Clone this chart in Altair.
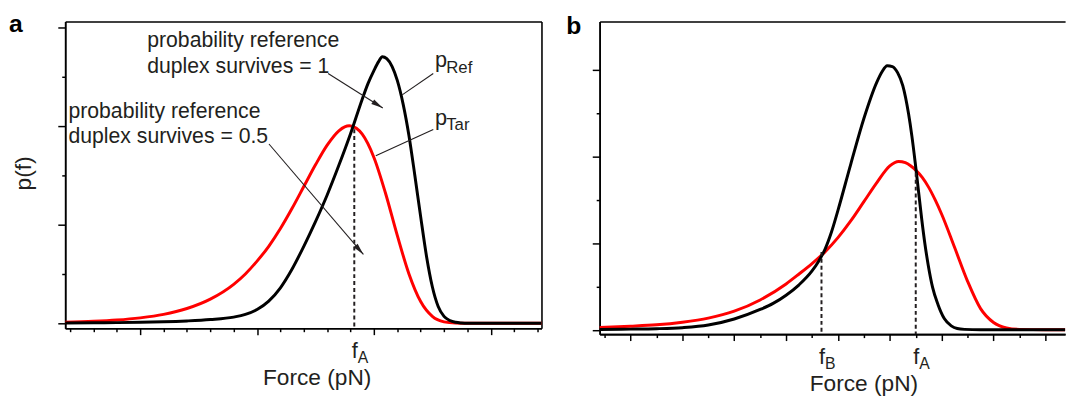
import altair as alt
import pandas as pd

FONT = "Liberation Sans"
INK = "#231f20"

# ---------------- panel a (force in minor-tick units, p(f) in major-tick units) ----------------
a_ref_force = [1.79, 3, 4, 5, 6, 7, 8, 9, 9.5, 10, 10.5, 11, 11.5, 12, 12.5, 13, 13.5, 14, 14.5, 14.75,
               15, 15.2, 15.36, 15.55, 15.78, 16, 16.25, 16.5, 16.75, 17, 17.25, 17.5, 17.75, 18, 18.25,
               18.5, 18.75, 19, 22.17]
a_ref_p = [0.003, 0.005, 0.007, 0.010, 0.015, 0.024, 0.038, 0.063, 0.09, 0.14, 0.225, 0.36, 0.55, 0.78,
           1.03, 1.30, 1.60, 1.92, 2.27, 2.43, 2.56, 2.65, 2.70, 2.68, 2.60, 2.46, 2.22, 1.90, 1.50, 1.08,
           0.68, 0.37, 0.17, 0.07, 0.028, 0.01, 0.003, 0.0, 0.0]
a_tar_force = [1.79, 3, 4, 5, 6, 7, 8, 9, 9.5, 10, 10.5, 11, 11.5, 12, 12.5, 13, 13.5, 13.75, 13.95, 14.25,
               14.5, 15, 15.5, 16, 16.5, 17, 17.5, 18, 18.5, 19, 22.17]
a_tar_p = [0.011, 0.02, 0.033, 0.055, 0.09, 0.15, 0.245, 0.395, 0.50, 0.63, 0.78, 0.96, 1.165, 1.385,
           1.605, 1.805, 1.95, 1.99, 2.00, 1.975, 1.915, 1.68, 1.315, 0.89, 0.50, 0.22, 0.07, 0.015,
           0.002, 0.0, 0.0]
a_x_domain = [1.79, 22.17]
a_y_domain = [-0.05, 3.056]
a_x_major = [5, 10, 15, 20]
a_x_minor = [2, 3, 4, 6, 7, 8, 9, 11, 12, 13, 14, 16, 17, 18, 19, 21, 22]
a_y_major = [0, 1, 2, 3]
a_y_minor = [0.5, 1.5, 2.5]
a_marks_x = [14.16]
a_marks_top = [1.966]
a_marks_sub = ["A"]
a_note_text = ["probability reference", "duplex survives = 1",
               "probability reference", "duplex survives = 0.5"]
a_note_x = [5.30, 5.30, 1.93, 1.93]
a_note_y = [2.80, 2.54, 2.08, 1.83]
a_label_sub = ["Ref", "Tar"]
a_label_x = [17.61, 17.61]
a_label_y = [2.596, 2.013]
a_seg_x = [13.04, 10.51, 17.54, 17.54]
a_seg_y = [2.53, 1.816, 2.53, 1.963]
a_seg_x2 = [15.38, 14.55, 16.21, 15.08]
a_seg_y2 = [2.18, 0.698, 2.313, 1.696]
a_head_x = [15.38, 14.55]
a_head_y = [2.18, 0.698]
a_head_angle = [122, 139]

# ---------------- panel b ----------------
b_ref_force = [0.81, 2, 3, 4, 5, 6, 7, 7.5, 8, 8.5, 9, 9.25, 9.5, 9.75, 10, 10.5, 11, 11.5, 11.7, 11.9,
               12.1, 12.3, 12.5, 12.72, 12.85, 12.98, 13.1, 13.23, 13.35, 13.48, 13.65, 13.86, 14.1,
               14.37, 14.6, 14.88, 15.5, 18.76]
b_ref_p = [0.004, 0.008, 0.013, 0.025, 0.055, 0.125, 0.235, 0.305, 0.40, 0.52, 0.68, 0.79, 0.93, 1.13,
           1.38, 1.92, 2.44, 2.86, 2.98, 3.05, 3.04, 2.97, 2.82, 2.50, 2.24, 1.93, 1.62, 1.28, 1.00,
           0.75, 0.49, 0.29, 0.13, 0.046, 0.015, 0.005, 0.0, 0.0]
b_tar_force = [0.81, 2, 3, 4, 5, 6, 7, 8, 8.5, 9, 9.5, 10, 10.5, 11, 11.5, 12, 12.34, 12.6, 12.8, 13,
               13.25, 13.5, 13.75, 14, 14.5, 15, 15.5, 16, 16.5, 17, 18, 18.76]
b_tar_p = [0.028, 0.042, 0.058, 0.088, 0.135, 0.215, 0.345, 0.53, 0.645, 0.765, 0.90, 1.065, 1.26, 1.48,
           1.70, 1.893, 1.945, 1.93, 1.895, 1.845, 1.76, 1.645, 1.50, 1.335, 0.95, 0.56, 0.245, 0.085,
           0.022, 0.005, 0.0, 0.0]
b_x_domain = [0.81, 18.76]
b_y_domain = [-0.05, 3.56]
b_x_major = [2, 4, 6, 8, 10, 12, 14, 16, 18]
b_x_minor = [1, 3, 5, 7, 9, 11, 13, 15, 17]
b_y_major = [0, 1, 2, 3]
b_y_minor = [0.5, 1.5, 2.5]
b_marks_x = [9.365, 13.0]
b_marks_top = [0.90, 1.813]
b_marks_sub = ["B", "A"]

ARROW = "M0,0L0.5,2.2L-0.5,2.2Z"


def panel(ref_f, ref_p, tar_f, tar_p, xdom, ydom, xmaj, xmin, ymaj, ymin,
          w, h, ytitle, xtitle_x, mx, mtop, msub, letter, ldx, ldy, right_frame, extras):
    xs = alt.Scale(domain=xdom, nice=False, zero=False)
    ys = alt.Scale(domain=ydom, nice=False, zero=False)

    if ytitle:
        y_major_axis = alt.Axis(orient="left", values=ymaj, tickSize=7.5, labels=False,
                                title=ytitle, titleX=-35.5, titleY=h / 2 - 2, titleAngle=270,
                                titleAlign="center", titleBaseline="alphabetic", titleFontSize=23)
    else:
        y_major_axis = alt.Axis(orient="left", values=ymaj, tickSize=7.5, labels=False, title=None)

    ref = alt.Chart(pd.DataFrame({"force": ref_f, "p": ref_p})).mark_line(
        color="black", strokeWidth=3, interpolate="monotone").encode(
        x=alt.X("force:Q", scale=xs,
                axis=alt.Axis(orient="bottom", values=xmaj, tickSize=6.5, labels=False,
                              title="Force (pN)", titleX=xtitle_x, titleY=57.5, titleAngle=0,
                              titleAlign="center", titleBaseline="alphabetic")),
        y=alt.Y("p:Q", scale=ys, axis=y_major_axis),
    )
    tar = alt.Chart(pd.DataFrame({"force": tar_f, "p": tar_p})).mark_line(
        color="#ff0000", strokeWidth=3, interpolate="monotone").encode(
        x=alt.X("force:Q", scale=xs,
                axis=alt.Axis(orient="bottom", values=xmin, tickSize=3.5, labels=False, title=None)),
        y=alt.Y("p:Q", scale=ys,
                axis=alt.Axis(orient="left", values=ymin, tickSize=3.5, labels=False, title=None)),
    )
    if right_frame:
        yaxis_frame = alt.Axis(orient="right", ticks=False, labels=False, domain=True, title=None)
    else:
        yaxis_frame = None
    mdf = pd.DataFrame({"x": mx, "top": mtop, "bottom": [ydom[0]] * len(mx), "sub": msub,
                        "f": ["f"] * len(mx)})
    dashed = alt.Chart(mdf).mark_rule(color=INK, strokeWidth=2, strokeDash=[4, 3]).encode(
        x=alt.X("x:Q", scale=xs,
                axis=alt.Axis(orient="top", ticks=False, labels=False, domain=True, title=None)),
        y=alt.Y("top:Q", scale=ys, axis=yaxis_frame),
        y2="bottom:Q",
    )
    f_txt = alt.Chart(mdf).mark_text(font=FONT, fontSize=22, color=INK, align="right",
                                     baseline="alphabetic", dx=3.5, dy=30).encode(
        x=alt.X("x:Q", scale=xs, axis=None), y=alt.Y("bottom:Q", scale=ys, axis=None), text="f:N")
    sub_txt = alt.Chart(mdf).mark_text(font=FONT, fontSize=16, color=INK, align="left",
                                       baseline="alphabetic", dx=3.5, dy=35).encode(
        x=alt.X("x:Q", scale=xs, axis=None), y=alt.Y("bottom:Q", scale=ys, axis=None), text="sub:N")
    ldf = pd.DataFrame({"x": [xdom[0]], "y": [ydom[1]], "t": [letter]})
    letter_txt = alt.Chart(ldf).mark_text(font=FONT, fontSize=25, fontWeight="bold", color="black",
                                          align="left", baseline="alphabetic", dx=ldx, dy=ldy).encode(
        x=alt.X("x:Q", scale=xs, axis=None), y=alt.Y("y:Q", scale=ys, axis=None), text="t:N")

    layers = [tar, ref, dashed, f_txt, sub_txt, letter_txt] + [e(xs, ys) for e in extras]
    return alt.layer(*layers).resolve_axis(x="independent", y="independent").properties(
        width=w, height=h)


def a_notes(xs, ys):
    return alt.Chart(pd.DataFrame({"x": a_note_x, "y": a_note_y, "t": a_note_text})).mark_text(
        font=FONT, fontSize=21.5, color=INK, align="left", baseline="alphabetic").encode(
        x=alt.X("x:Q", scale=xs, axis=None), y=alt.Y("y:Q", scale=ys, axis=None), text="t:N")


def a_p(xs, ys):
    return alt.Chart(pd.DataFrame({"x": a_label_x, "y": a_label_y, "t": ["p", "p"]})).mark_text(
        font=FONT, fontSize=22, color=INK, align="left", baseline="alphabetic").encode(
        x=alt.X("x:Q", scale=xs, axis=None), y=alt.Y("y:Q", scale=ys, axis=None), text="t:N")


def a_sub(xs, ys):
    return alt.Chart(pd.DataFrame({"x": a_label_x, "y": a_label_y, "t": a_label_sub})).mark_text(
        font=FONT, fontSize=17, color=INK, align="left", baseline="alphabetic", dx=11.5, dy=6).encode(
        x=alt.X("x:Q", scale=xs, axis=None), y=alt.Y("y:Q", scale=ys, axis=None), text="t:N")


def a_segs(xs, ys):
    return alt.Chart(pd.DataFrame({"x": a_seg_x, "y": a_seg_y, "x2": a_seg_x2, "y2": a_seg_y2})).mark_rule(
        color=INK, strokeWidth=1.1).encode(
        x=alt.X("x:Q", scale=xs, axis=None), y=alt.Y("y:Q", scale=ys, axis=None), x2="x2:Q", y2="y2:Q")


def a_heads(xs, ys):
    return alt.Chart(pd.DataFrame({"x": a_head_x, "y": a_head_y, "a": a_head_angle})).mark_point(
        shape=ARROW, filled=True, size=119, color=INK, opacity=1, strokeWidth=0).encode(
        x=alt.X("x:Q", scale=xs, axis=None), y=alt.Y("y:Q", scale=ys, axis=None),
        angle=alt.Angle("a:Q", scale=None))


panel_a = panel(a_ref_force, a_ref_p, a_tar_force, a_tar_p, a_x_domain, a_y_domain,
                a_x_major, a_x_minor, a_y_major, a_y_minor, 483, 311, "p(f)", 255,
                a_marks_x, a_marks_top, a_marks_sub, "a", -57, 10.3, True,
                [a_segs, a_heads, a_notes, a_p, a_sub])
panel_b = panel(b_ref_force, b_ref_p, b_tar_force, b_tar_p, b_x_domain, b_y_domain,
                b_x_major, b_x_minor, b_y_major, b_y_minor, 472, 317, None, 267.5,
                b_marks_x, b_marks_top, b_marks_sub, "b", -34, 13, False, [])

chart = alt.hconcat(panel_a, panel_b, spacing=17).properties(
    padding={"left": 0, "right": 0, "top": 0, "bottom": 0}, background="white"
).configure_view(stroke="transparent").configure_axis(
    domainColor="black", domainWidth=1.6, tickColor="black", tickWidth=1.5, grid=False,
    titleFont=FONT, titleFontSize=23, titleFontWeight="normal", titleColor=INK,
)

chart.save("out.html", embed_options={"renderer": "svg", "actions": False})
